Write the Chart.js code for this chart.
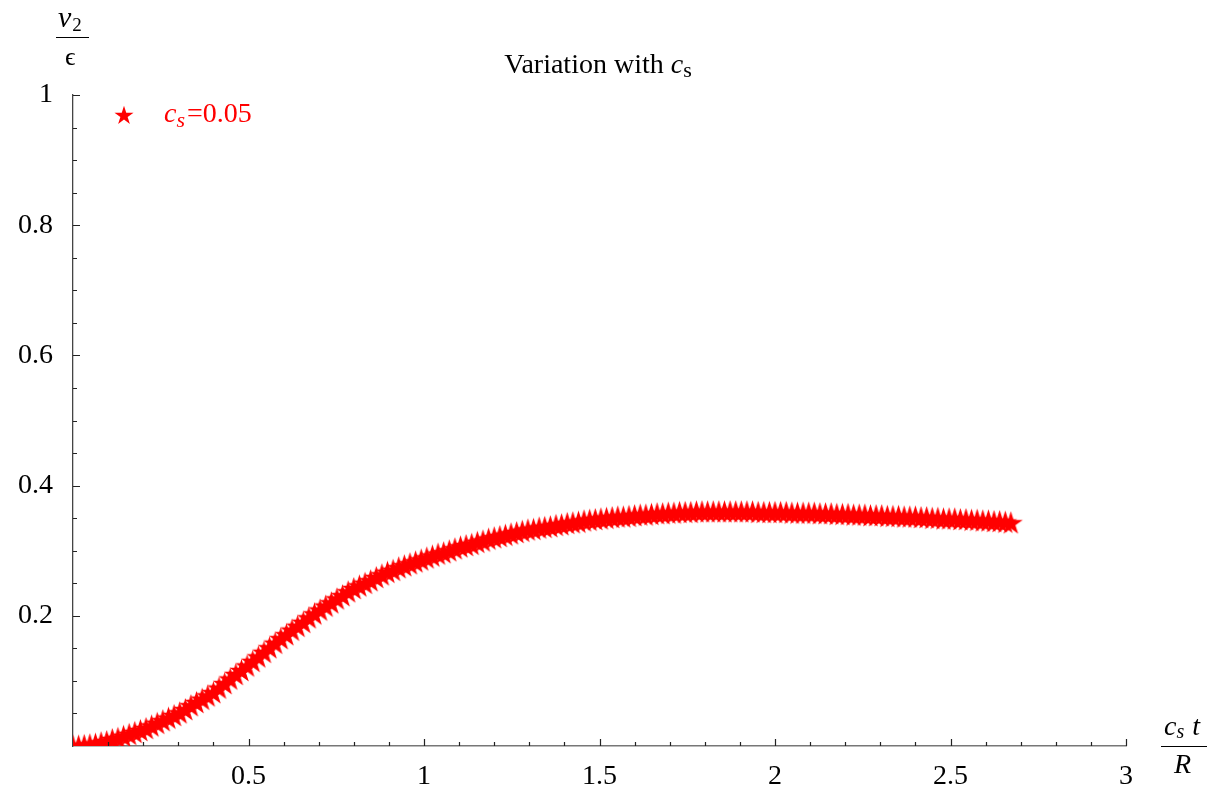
<!DOCTYPE html>
<html>
<head>
<meta charset="utf-8">
<script src="https://cdn.jsdelivr.net/npm/chart.js@4.4.1/dist/chart.umd.min.js"></script>
<style>
  html, body { margin: 0; padding: 0; background: #fff; }
  #wrap { width: 1208px; height: 788px; }
</style>
</head>
<body>
<div id="wrap"><canvas id="v2-chart" width="1208" height="788"></canvas></div>
<script>
// c_s t / R
const timeValues = [
  0.000, 0.016, 0.032, 0.048, 0.064, 0.080, 0.096, 0.112, 0.128, 0.144,
  0.160, 0.176, 0.192, 0.208, 0.224, 0.240, 0.256, 0.272, 0.288, 0.304,
  0.320, 0.336, 0.352, 0.368, 0.384, 0.400, 0.416, 0.432, 0.448, 0.464,
  0.480, 0.496, 0.512, 0.528, 0.544, 0.560, 0.576, 0.592, 0.608, 0.624,
  0.640, 0.656, 0.672, 0.688, 0.704, 0.720, 0.736, 0.752, 0.768, 0.784,
  0.800, 0.816, 0.832, 0.848, 0.864, 0.880, 0.896, 0.912, 0.928, 0.944,
  0.960, 0.976, 0.992, 1.008, 1.024, 1.040, 1.056, 1.072, 1.088, 1.104,
  1.120, 1.136, 1.152, 1.168, 1.184, 1.200, 1.216, 1.232, 1.248, 1.264,
  1.280, 1.296, 1.312, 1.328, 1.344, 1.360, 1.376, 1.392, 1.408, 1.424,
  1.440, 1.456, 1.472, 1.488, 1.504, 1.520, 1.536, 1.552, 1.568, 1.584,
  1.600, 1.616, 1.632, 1.648, 1.664, 1.680, 1.696, 1.712, 1.728, 1.744,
  1.760, 1.776, 1.792, 1.808, 1.824, 1.840, 1.856, 1.872, 1.888, 1.904,
  1.920, 1.936, 1.952, 1.968, 1.984, 2.000, 2.016, 2.032, 2.048, 2.064,
  2.080, 2.096, 2.112, 2.128, 2.144, 2.160, 2.176, 2.192, 2.208, 2.224,
  2.240, 2.256, 2.272, 2.288, 2.304, 2.320, 2.336, 2.352, 2.368, 2.384,
  2.400, 2.416, 2.432, 2.448, 2.464, 2.480, 2.496, 2.512, 2.528, 2.544,
  2.560, 2.576, 2.592, 2.608, 2.624, 2.640, 2.656, 2.672
];

// v2 / epsilon for c_s = 0.05
const v2Values = [
  0.000, 0.000, 0.001, 0.002, 0.003, 0.005, 0.007, 0.010, 0.012, 0.015,
  0.018, 0.021, 0.024, 0.027, 0.031, 0.035, 0.039, 0.043, 0.047, 0.051,
  0.056, 0.062, 0.067, 0.072, 0.077, 0.082, 0.089, 0.096, 0.103, 0.110,
  0.116, 0.123, 0.130, 0.137, 0.144, 0.151, 0.158, 0.165, 0.171, 0.178,
  0.184, 0.190, 0.197, 0.203, 0.209, 0.215, 0.220, 0.226, 0.231, 0.237,
  0.242, 0.246, 0.250, 0.254, 0.259, 0.263, 0.267, 0.270, 0.274, 0.277,
  0.280, 0.283, 0.286, 0.289, 0.292, 0.295, 0.297, 0.300, 0.303, 0.306,
  0.308, 0.310, 0.313, 0.315, 0.318, 0.320, 0.322, 0.324, 0.326, 0.328,
  0.330, 0.332, 0.333, 0.335, 0.336, 0.337, 0.339, 0.340, 0.342, 0.343,
  0.344, 0.346, 0.347, 0.348, 0.349, 0.350, 0.351, 0.352, 0.352, 0.353,
  0.354, 0.355, 0.355, 0.356, 0.357, 0.357, 0.358, 0.358, 0.359, 0.359,
  0.359, 0.360, 0.360, 0.360, 0.360, 0.360, 0.360, 0.360, 0.360, 0.360,
  0.360, 0.360, 0.359, 0.359, 0.359, 0.359, 0.359, 0.359, 0.358, 0.358,
  0.358, 0.358, 0.358, 0.357, 0.357, 0.357, 0.356, 0.356, 0.356, 0.355,
  0.355, 0.355, 0.354, 0.354, 0.354, 0.353, 0.353, 0.353, 0.352, 0.352,
  0.352, 0.351, 0.351, 0.350, 0.350, 0.349, 0.349, 0.349, 0.348, 0.348,
  0.347, 0.347, 0.346, 0.346, 0.345, 0.345, 0.344, 0.343
];

const xMajorTicks = [0.5, 1, 1.5, 2, 2.5, 3];
const xMinorTicks = [0.1, 0.2, 0.3, 0.4, 0.6, 0.7, 0.8, 0.9, 1.1, 1.2, 1.3, 1.4,
                     1.6, 1.7, 1.8, 1.9, 2.1, 2.2, 2.3, 2.4, 2.6, 2.7, 2.8, 2.9];
const yMajorTicks = [0.2, 0.4, 0.6, 0.8, 1];
const yMinorTicks = [0.05, 0.1, 0.15, 0.25, 0.3, 0.35, 0.45, 0.5, 0.55,
                     0.65, 0.7, 0.75, 0.85, 0.9, 0.95];

const seriesValue = '=0.05';
const titleText = 'Variation with ';

const SERIF = '"Liberation Serif", "Times New Roman", serif';
const RED = '#ff0000';

// filled five-pointed star used as the point marker
function makeStar(r, color) {
  const size = Math.ceil(r * 2) + 2;
  const c = document.createElement('canvas');
  c.width = size;
  c.height = size;
  const g = c.getContext('2d');
  const cx = size / 2, cy = size / 2 + r * 0.08;
  g.beginPath();
  for (let i = 0; i < 10; i++) {
    const rad = i % 2 === 0 ? r : r * 0.382;
    const a = -Math.PI / 2 + i * Math.PI / 5;
    g.lineTo(cx + rad * Math.cos(a), cy + rad * Math.sin(a));
  }
  g.closePath();
  g.fillStyle = color;
  g.fill();
  return c;
}

const pointStar = makeStar(12.5, RED);
const legendStar = makeStar(10, RED);

// draw a run of text pieces (roman / italic / subscript) starting at x
function drawRun(ctx, parts, x, baseline, color) {
  ctx.fillStyle = color;
  ctx.textBaseline = 'alphabetic';
  ctx.textAlign = 'left';
  let cx = x;
  parts.forEach(p => {
    ctx.font = p.font;
    ctx.fillText(p.text, cx, baseline + (p.dy || 0));
    cx += ctx.measureText(p.text).width + (p.gap || 0);
  });
  return cx;
}

function runWidth(ctx, parts) {
  let w = 0;
  parts.forEach(p => { ctx.font = p.font; w += ctx.measureText(p.text).width + (p.gap || 0); });
  return w;
}

const decorPlugin = {
  id: 'decor',
  afterDraw(chart) {
    const { ctx, chartArea: a, scales: { x, y } } = chart;
    ctx.save();

    // inward ticks
    ctx.strokeStyle = '#222';
    ctx.lineWidth = 1.2;
    ctx.beginPath();
    xMinorTicks.forEach(v => {
      const px = Math.round(x.getPixelForValue(v)) + 0.5;
      ctx.moveTo(px, a.bottom); ctx.lineTo(px, a.bottom - 4);
    });
    xMajorTicks.forEach(v => {
      const px = Math.round(x.getPixelForValue(v)) + 0.5;
      ctx.moveTo(px, a.bottom); ctx.lineTo(px, a.bottom - 7);
    });
    yMinorTicks.forEach(v => {
      const py = Math.round(y.getPixelForValue(v)) + 0.5;
      ctx.moveTo(a.left, py); ctx.lineTo(a.left + 4, py);
    });
    yMajorTicks.forEach(v => {
      const py = Math.round(y.getPixelForValue(v)) + 0.5;
      ctx.moveTo(a.left, py); ctx.lineTo(a.left + 7, py);
    });
    ctx.stroke();

    // title
    const titleParts = [
      { text: titleText, font: '28px ' + SERIF },
      { text: 'c', font: 'italic 28px ' + SERIF },
      { text: 's', font: '22px ' + SERIF, dy: 4 }
    ];
    drawRun(ctx, titleParts, 598 - runWidth(ctx, titleParts) / 2, 73, '#000');

    // y axis label: v2 over epsilon
    drawRun(ctx, [
      { text: 'v', font: 'italic 30px ' + SERIF, gap: 1 },
      { text: '2', font: '19px ' + SERIF, dy: 4 }
    ], 58, 27, '#000');
    ctx.strokeStyle = '#000';
    ctx.lineWidth = 1.2;
    ctx.beginPath();
    ctx.moveTo(56, 37.5); ctx.lineTo(89, 37.5);
    ctx.stroke();
    drawRun(ctx, [{ text: 'ϵ', font: '26px ' + SERIF }], 65, 65, '#000');

    // x axis label: c_s t over R
    drawRun(ctx, [
      { text: 'c', font: 'italic 28px ' + SERIF },
      { text: 's', font: 'italic 20px ' + SERIF, dy: 3, gap: 8 },
      { text: 't', font: 'italic 28px ' + SERIF }
    ], 1164, 735, '#000');
    ctx.beginPath();
    ctx.moveTo(1161, 746.5); ctx.lineTo(1207, 746.5);
    ctx.stroke();
    drawRun(ctx, [{ text: 'R', font: 'italic 28px ' + SERIF }], 1174, 773, '#000');

    // legend
    ctx.drawImage(legendStar, 124 - legendStar.width / 2, 115 - legendStar.height / 2);
    drawRun(ctx, [
      { text: 'c', font: 'italic 28px ' + SERIF },
      { text: 's', font: 'italic 22px ' + SERIF, dy: 5, gap: 2 },
      { text: seriesValue, font: '28px ' + SERIF }
    ], 164, 122, RED);

    ctx.restore();
  }
};

const points = timeValues.map((t, i) => ({ x: t, y: v2Values[i] }));

new Chart(document.getElementById('v2-chart').getContext('2d'), {
  type: 'scatter',
  data: {
    datasets: [{
      label: 'cs=0.05',
      data: points,
      pointStyle: pointStar,
      pointRadius: 12,
      backgroundColor: RED,
      borderColor: RED,
      showLine: false,
      clip: 0
    }]
  },
  options: {
    responsive: false,
    animation: false,
    layout: { padding: { left: 0, top: 95, right: 82, bottom: 0 } },
    plugins: {
      legend: { display: false },
      tooltip: { enabled: false }
    },
    scales: {
      x: {
        type: 'linear',
        min: 0,
        max: 3,
        afterBuildTicks: s => { s.ticks = xMajorTicks.map(v => ({ value: v })); },
        afterFit: s => { s.height = 42; },
        grid: { drawOnChartArea: false, drawTicks: false },
        border: { color: '#777', width: 1.5 },
        ticks: {
          color: '#000',
          padding: 14,
          maxRotation: 0,
          font: { family: SERIF, size: 28 },
          callback: v => String(v)
        }
      },
      y: {
        type: 'linear',
        min: 0,
        max: 1,
        afterBuildTicks: s => { s.ticks = yMajorTicks.map(v => ({ value: v })); },
        afterFit: s => { s.width = 73; },
        grid: { drawOnChartArea: false, drawTicks: false },
        border: { color: '#444', width: 1.3 },
        ticks: {
          color: '#000',
          padding: 20,
          font: { family: SERIF, size: 28 },
          callback: v => String(v)
        }
      }
    }
  },
  plugins: [decorPlugin]
});
</script>
</body>
</html>
